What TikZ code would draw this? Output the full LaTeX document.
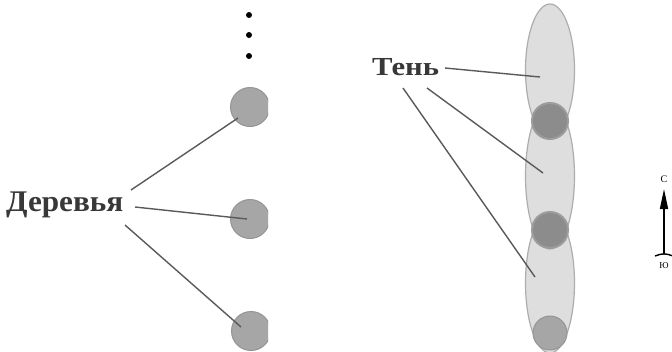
\documentclass[tikz,border=0pt]{standalone}
\usepackage{fontspec}
\setmainfont{Liberation Serif}
\usetikzlibrary{arrows.meta,shapes.geometric,calc}
\definecolor{treefill}{HTML}{A6A6A6}
\definecolor{treedark}{HTML}{8C8C8C}
\definecolor{treeline}{HTML}{959595}
\definecolor{shadefill}{HTML}{DEDEDE}
\definecolor{shadeline}{HTML}{ADADAD}
\definecolor{leader}{HTML}{5A5A5A}
\tikzset{
  tree/.style={circle,minimum size=39pt,inner sep=0pt,fill=treefill,draw=treeline,line width=1pt},
  treeshaded/.style={circle,minimum size=36pt,inner sep=0pt,fill=treedark,draw=shadeline!90!black,line width=2pt},
  shadow/.style={ellipse,minimum width=49pt,inner sep=0pt,fill=shadefill,draw=shadeline,line width=1.2pt},
  leaderline/.style={draw=leader,line width=1.4pt},
  label/.style={inner sep=0pt,anchor=base west,text=black!78},
  dot/.style={circle,fill=black,minimum size=6pt,inner sep=0pt},
  compass/.style={inner sep=0pt,font=\fontsize{10}{10}\selectfont}
}
\begin{document}
\begin{tikzpicture}[x=1pt,y=-1pt]
\useasboundingbox (0,0) rectangle (672,351);
\fill[white] (0,0) rectangle (672,351);
% left panel: trees, clipped at right edge
\begin{scope}
\clip (0,0) rectangle (268,351);
\node[tree] (t1) at (250,107) {};
\node[tree] (t2) at (250,219) {};
\node[tree] (t3) at (251,331) {};
\end{scope}
\node[dot] (d1) at (249,15) {};
\node[dot] (d2) at (249,35) {};
\node[dot] (d3) at (249,56) {};
\node[label,font=\bfseries\fontsize{30}{30}\selectfont] (trees) at (6,211) {\scalebox{1.04}[1]{Деревья}};
\coordinate (l1s) at (131,190);
\coordinate (l2s) at (135,207);
\coordinate (l3s) at (125,225);
\path[leaderline] (l1s) -- ($(t1.center)+(-12,11)$);
\path[leaderline] (l2s) -- ($(t2.center)+(-3,0)$);
\path[leaderline] (l3s) -- ($(t3.center)+(-10,-4)$);
% middle panel: shadows
\node[shadow,minimum height=140pt] (s3) at (550,283) {};
\node[shadow,minimum height=146pt] (s2) at (550,176) {};
\node[shadow,minimum height=132pt] (s1) at (550,70) {};
\node[treeshaded] (m1) at (550,121) {};
\node[treeshaded] (m2) at (550,230) {};
\node[tree,minimum size=34pt] (m3) at (550,333) {};
\node[label,font=\bfseries\fontsize{26}{26}\selectfont] (shade) at (372,75) {\scalebox{1.18}[1]{Тень}};
\coordinate (k1s) at (445,68);
\coordinate (k2s) at (427,88);
\coordinate (k3s) at (403,88);
\path[leaderline] (k1s) -- ($(s1.center)+(-10,7)$);
\path[leaderline] (k2s) -- ($(s2.center)+(-7,-3)$);
\path[leaderline] (k3s) -- ($(s3.center)+(-15,-6)$);
% compass
\node[compass] (north) at (664,179) {С};
\node[compass,font=\fontsize{9}{9}\selectfont] (south) at (664,266) {Ю};
\coordinate (cb) at (664,254);
\coordinate (ct) at (664,189);
\draw[line width=1.6pt,-{Triangle[length=20pt,width=8pt]}] (cb) -- (ct);
\draw[line width=1.4pt] ($(cb)+(-9,2)$) .. controls ($(cb)+(-3,0)$) .. (cb) .. controls ($(cb)+(3,0)$) .. ($(cb)+(9,2)$);
\end{tikzpicture}
\end{document}
